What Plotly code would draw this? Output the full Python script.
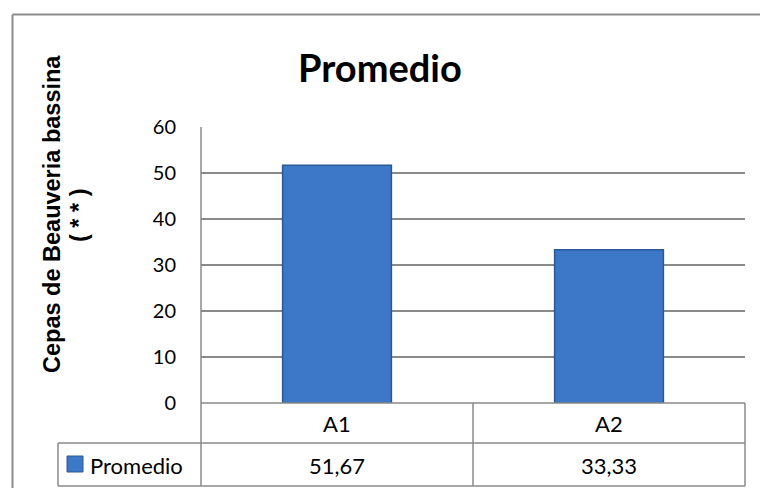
import plotly.graph_objects as go

# ---- data ----
categories = ["A1", "A2"]
values = [51.67, 33.33]
value_labels = ["51,67", "33,33"]
series_name = "Promedio"
chart_title = "Promedio"
y_title_line1 = "Cepas de Beauveria bassina"
y_title_line2 = "( * * )"
y_ticks = [0, 10, 20, 30, 40, 50, 60]

W, H = 760, 488
L, R, T, B = 201, 745, 127, 403  # plot area in pixels

def px(x):
    return (x - L) / (R - L)

def py(y):
    return (B - y) / (B - T)

GRID = "#8a8a8a"
BAR = "#3D78C8"
BAR_EDGE = "#2A5896"

fig = go.Figure()
fig.add_trace(go.Bar(
    x=categories, y=values, width=0.4,
    marker=dict(color=BAR, line=dict(color=BAR_EDGE, width=1.5)),
    name=series_name, showlegend=False, hoverinfo="skip",
))

shapes = []
def line(x0, y0, x1, y1, w=1.5, c=GRID):
    shapes.append(dict(type="line", xref="paper", yref="paper",
                       x0=px(x0), y0=py(y0), x1=px(x1), y1=py(y1),
                       line=dict(color=c, width=w), layer="above"))

# data table lines
line(201, 403, 745, 403)
line(58, 443, 745, 443)
line(58, 486, 745, 486)
line(58, 443, 58, 486)
line(201, 127, 201, 486)
line(473, 403, 473, 486)
line(745, 403, 745, 486)
# outer chart border (top and left visible)
line(12.5, 14.5, 770, 14.5, w=2, c="#8c8c8c")
line(12.5, 14.5, 12.5, 500, w=2, c="#8c8c8c")
# legend key
shapes.append(dict(type="rect", xref="paper", yref="paper",
                   x0=px(67), x1=px(83), y0=py(472), y1=py(456),
                   fillcolor=BAR, line=dict(color=BAR_EDGE, width=1)))

annotations = []
cell_font = dict(family="Lato, Noto Sans, sans-serif", size=22, color="#000")
centers = [337, 609]
for cat, lab, cx in zip(categories, value_labels, centers):
    annotations.append(dict(xref="paper", yref="paper", x=px(cx), y=py(423),
                            text=cat, showarrow=False, font=cell_font,
                            xanchor="center", yanchor="middle"))
    annotations.append(dict(xref="paper", yref="paper", x=px(cx), y=py(465),
                            text=lab, showarrow=False, font=cell_font,
                            xanchor="center", yanchor="middle"))
annotations.append(dict(xref="paper", yref="paper", x=px(88), y=py(465),
                        text=series_name, showarrow=False, font=cell_font,
                        xanchor="left", yanchor="middle"))
# title
annotations.append(dict(xref="paper", yref="paper", x=px(380), y=py(67),
                        text="<b>" + chart_title + "</b>", showarrow=False,
                        font=dict(family="Lato, Noto Sans, sans-serif", size=38, color="#000"),
                        xanchor="center", yanchor="middle"))
# y-axis title
yt_font = dict(family="Liberation Sans, Arial, sans-serif", size=23.5, color="#000")
annotations.append(dict(xref="paper", yref="paper", x=px(52), y=py(214),
                        text="<b>" + y_title_line1 + "</b>", textangle=-90,
                        showarrow=False, font=yt_font,
                        xanchor="center", yanchor="middle"))
annotations.append(dict(xref="paper", yref="paper", x=px(79), y=py(215),
                        text="<b>" + y_title_line2 + "</b>", textangle=-90,
                        showarrow=False, font=yt_font,
                        xanchor="center", yanchor="middle"))

fig.update_layout(
    width=W, height=H,
    margin=dict(l=L, r=W - R, t=T, b=H - B, pad=0),
    paper_bgcolor="white", plot_bgcolor="white",
    shapes=shapes, annotations=annotations,
    bargap=0.6,
    xaxis=dict(showticklabels=False, showgrid=False, zeroline=False,
               showline=False, ticks="", fixedrange=True),
    yaxis=dict(range=[0, 60], tickvals=y_ticks, showgrid=True,
               gridcolor=GRID, gridwidth=1.5, zeroline=False,
               showline=False, ticks="", ticklabelstandoff=24,
               tickfont=dict(family="Lato, Noto Sans, sans-serif", size=20, color="#000"),
               fixedrange=True),
)

fig.write_html("out.html")
